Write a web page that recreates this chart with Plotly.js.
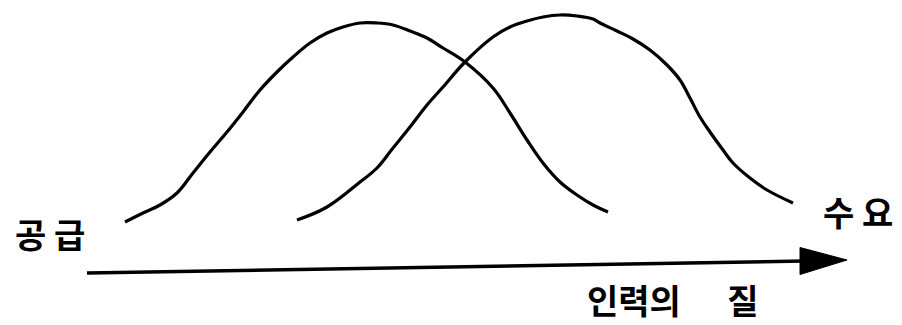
<!DOCTYPE html>
<html>
<head>
<meta charset="utf-8">
<script src="https://cdn.plot.ly/plotly-3.0.1.min.js"></script>
<style>html,body{margin:0;padding:0;background:#fff;}#chart{width:902px;height:325px;}</style>
</head>
<body>
<div id="chart"></div>
<script>
// Supply curve (공급)
const supplyX = [125,143,160,177,193,210,227,243,260,277,293,310,327,343,360,377,393,410,427,443,465,493,510,527,543,560,577,593,608];
const supplyY = [103,112,120,132,152,173,193,213,235,253,268,282,292,298,302,302,300,294,287,277,263,237,212,185,162,143,130,120,113];
// Demand curve (수요)
const demandX = [297,327,360,377,393,410,427,443,465,493,510,527,543,560,577,593,600,617,633,650,667,680,690,700,710,723,733,750,767,793];
const demandY = [105,118,143,157,177,198,220,238,263,288,298,304,308,310,309,306,302,294,286,275,260,245,227,208,193,175,162,147,135,122];
// Quality axis arrow: start, shaft end, tip
const arrowX = [87, 805, 847];
const arrowY = [52, 64, 65];
const arrowHeadHalf = 13.5;
// Labels
const labelText = ["공\u00a0급", "수\u00a0요", "인력의\u00a0\u00a0\u00a0\u00a0\u00a0\u00a0질"];
const labelX = [50, 858, 672];
const labelY = [92, 114, 26];

const lineStyle = {color: '#000', width: 3.2, shape: 'spline', smoothing: 1.1};
const traces = [
  {x: supplyX, y: supplyY, mode: 'lines', line: lineStyle, hoverinfo: 'skip'},
  {x: demandX, y: demandY, mode: 'lines', line: lineStyle, hoverinfo: 'skip'}
];

const shapes = [
  {type: 'line', xref: 'x', yref: 'y', x0: arrowX[0], y0: arrowY[0], x1: arrowX[1], y1: arrowY[1],
   line: {color: '#000', width: 3.6}},
  {type: 'path', xref: 'x', yref: 'y',
   path: `M ${arrowX[1]-5} ${arrowY[1]+arrowHeadHalf} L ${arrowX[2]} ${arrowY[2]} L ${arrowX[1]-5} ${arrowY[1]-arrowHeadHalf} Z`,
   fillcolor: '#000', line: {color: '#000', width: 1}}
];

const font = {family: '"Noto Sans CJK KR", "Noto Sans", sans-serif', size: 34, color: '#000', weight: 700};
const annotations = labelText.map((t, i) => ({
  text: t, x: labelX[i], y: labelY[i], xref: 'x', yref: 'y',
  showarrow: false, font: font, xanchor: 'center', yanchor: 'middle', borderpad: 0
}));

const layout = {
  width: 902, height: 325,
  margin: {l: 0, r: 0, t: 0, b: 0, pad: 0},
  paper_bgcolor: '#fff', plot_bgcolor: '#fff',
  showlegend: false,
  xaxis: {range: [0, 902], visible: false, fixedrange: true},
  yaxis: {range: [0, 325], visible: false, fixedrange: true},
  shapes: shapes,
  annotations: annotations
};

Plotly.newPlot('chart', traces, layout, {staticPlot: true, displayModeBar: false});
</script>
</body>
</html>
